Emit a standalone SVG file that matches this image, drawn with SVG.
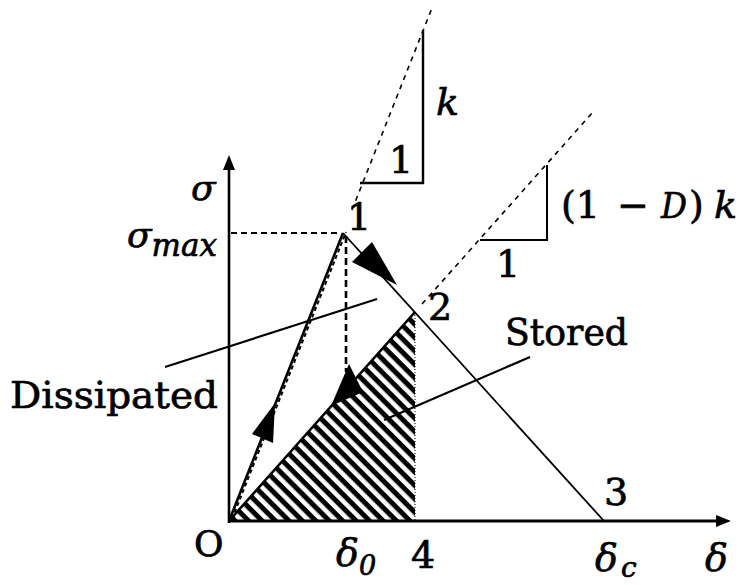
<svg xmlns="http://www.w3.org/2000/svg" width="742" height="585" viewBox="0 0 742 585">
<defs>
<pattern id="hatch" patternUnits="userSpaceOnUse" width="9.5" height="9.5" patternTransform="rotate(45)">
<rect width="9.5" height="5" fill="#000"/>
</pattern>
<style>
.t{font-family:"DejaVu Serif","Liberation Serif",serif;fill:#000;stroke:#000;stroke-width:0.7}
.m{font-family:"DejaVu Serif","Liberation Serif",serif;font-style:italic;fill:#000;stroke:#000;stroke-width:0.7}
.ln{stroke:#000;fill:none}
.dash{stroke:#000;fill:none;stroke-width:1.6;stroke-dasharray:5 5}
</style>
</defs>
<rect width="742" height="585" fill="#fff"/>
<g id="hatched-area">
<polygon points="229,521 415,312 415,521" fill="url(#hatch)"/>
<line x1="415" y1="312" x2="415" y2="521" stroke="#000" stroke-width="1" stroke-dasharray="1 2"/>
</g>
<g id="axes">
<line class="ln" x1="229" y1="523" x2="229" y2="166" stroke-width="2.6"/>
<polygon points="229,155 223,170 235,170" fill="#000"/>
<line class="ln" x1="228" y1="521" x2="720" y2="521" stroke-width="3"/>
<polygon points="731,521 716,515 716,527" fill="#000"/>
</g>
<g id="guides">
<line class="ln" x1="231" y1="233" x2="341" y2="233" stroke-width="2" stroke-dasharray="6 4"/>
<line class="ln" x1="346" y1="236" x2="346" y2="372" stroke-width="2.6" stroke-dasharray="7 4"/>
<line class="ln" x1="232" y1="519" x2="346" y2="232" stroke-width="2" stroke-dasharray="4 3"/>
<line class="dash" x1="352" y1="210" x2="432" y2="8"/>
<line class="dash" x1="422" y1="304" x2="593" y2="112"/>
</g>
<g id="slope-triangles">
<polyline class="ln" points="423,30 423,183 360,183" stroke-width="2.4"/>
<polyline class="ln" points="547,165 547,240 480,240" stroke-width="2"/>
</g>
<g id="connectors">
<line class="ln" x1="229" y1="521" x2="343" y2="233" stroke-width="2.6"/>
<polygon points="275,403 252,434 273,443" fill="#000"/>
<line class="ln" x1="343" y1="233" x2="604" y2="521" stroke-width="1.8"/>
<polygon points="397,285 352,262 372,242" fill="#000"/>
<line class="ln" x1="229" y1="521" x2="415" y2="312" stroke-width="2.6"/>
<polygon points="349,364 331,406 363,392" fill="#000"/>
<line class="ln" x1="165" y1="367" x2="377" y2="299" stroke-width="2.2"/>
<line class="ln" x1="530" y1="357" x2="384" y2="420" stroke-width="2.2"/>
</g>
<g id="labels">
<text class="m" x="191" y="200" font-size="36">σ</text>
<text class="m" x="127" y="247" font-size="36">σ<tspan font-size="31" y="256">max</tspan></text>
<text class="t" x="347" y="230" font-size="38">1</text>
<text class="t" x="389" y="173" font-size="38">1</text>
<text class="m" x="436" y="115" font-size="38">k</text>
<text class="t" x="428" y="320" font-size="38">2</text>
<text class="t" x="604" y="505" font-size="38">3</text>
<text class="t" x="411" y="568" font-size="38">4</text>
<text class="t" x="194" y="556" font-size="36">O</text>
<text class="t" x="496" y="277" font-size="38">1</text>
<text class="t" x="561" y="218" font-size="38">(1</text>
<text class="t" x="617" y="218" font-size="38">−</text>
<text class="m" x="661" y="218" font-size="36" textLength="26" lengthAdjust="spacingAndGlyphs">D</text>
<text class="t" x="689" y="218" font-size="38">)</text>
<text class="m" x="714" y="218" font-size="38">k</text>
<text class="m" x="336" y="566" font-size="38">δ<tspan class="t" font-size="27" x="359" y="575">0</tspan></text>
<text class="m" x="595" y="571" font-size="38">δ<tspan font-size="28" x="621" y="577">c</tspan></text>
<text class="m" x="705" y="571" font-size="38">δ</text>
<text class="t" x="10" y="408" font-size="38" textLength="208" lengthAdjust="spacingAndGlyphs">Dissipated</text>
<text class="t" x="505" y="345" font-size="38" textLength="123" lengthAdjust="spacingAndGlyphs">Stored</text>
</g>
</svg>
